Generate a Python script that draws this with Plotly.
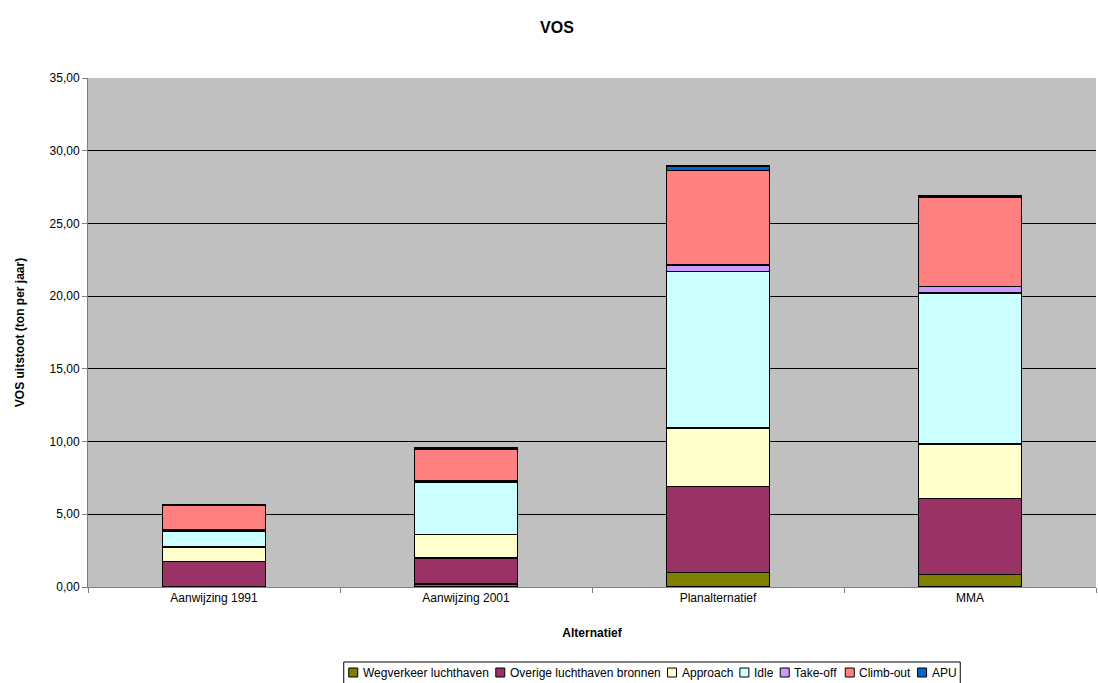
import plotly.graph_objects as go

categories = ["Aanwijzing 1991", "Aanwijzing 2001", "Planalternatief", "MMA"]
wegverkeer = [0.0, 0.2, 1.0, 0.85]
overige = [1.75, 1.8, 5.9, 5.25]
approach = [1.0, 1.6, 4.05, 3.75]
idle = [1.1, 3.6, 10.75, 10.35]
take_off = [0.1, 0.1, 0.45, 0.45]
climb_out = [1.7, 2.2, 6.5, 6.15]
apu = [0.0, 0.05, 0.3, 0.1]

series_names = ["Wegverkeer luchthaven", "Overige luchthaven bronnen", "Approach",
                "Idle", "Take-off", "Climb-out", "APU"]
series_values = [wegverkeer, overige, approach, idle, take_off, climb_out, apu]
series_colors = ["#808000", "#993366", "#FFFFCC", "#CCFFFF", "#CC99FF", "#FF8080", "#0066CC"]

W, H = 1098, 683
ML, MR, MT, MB = 88, 2, 78, 96
PW, PH = W - ML - MR, H - MT - MB
FONT = "Liberation Sans, Arial, sans-serif"
LEG_FONT = 12

# Arial advance widths (em) used to lay out the Excel-style legend
_AW = {c: 0.556 for c in "abdeghnopqu0123456789"}
_AW.update({"c": 0.5, "k": 0.5, "s": 0.5, "v": 0.5, "x": 0.5, "y": 0.5, "z": 0.5,
            "f": 0.278, "t": 0.278, "i": 0.222, "j": 0.222, "l": 0.222, "r": 0.333,
            "m": 0.833, "w": 0.722, " ": 0.278, "-": 0.333, "A": 0.667, "P": 0.667,
            "U": 0.722, "W": 0.944, "O": 0.778, "I": 0.278, "T": 0.611, "C": 0.722})

def text_w(s, size):
    return sum(_AW.get(c, 0.556) for c in s) * size

def px2x(px):
    return (px - ML) / PW

def py2y(py):
    return (H - MB - py) / PH

fig = go.Figure()
for name, vals, col in zip(series_names, series_values, series_colors):
    fig.add_trace(go.Bar(
        name=name, x=categories, y=vals,
        marker=dict(color=col, line=dict(color="#000000", width=1.5)),
        showlegend=False,
    ))

# manual legend (Excel style: small square + text)
SQ, GAP_T, GAP_I, PAD = 9, 4, 8, 5
widths = [SQ + GAP_T + text_w(n, LEG_FONT) for n in series_names]
total = sum(widths) + GAP_I * (len(widths) - 1) + 2 * PAD
center = 652
box_l = center - total / 2
shapes, annotations = [], []
shapes.append(dict(type="rect", xref="paper", yref="paper",
                   x0=px2x(box_l), x1=px2x(box_l + total),
                   y0=py2y(690), y1=py2y(662),
                   line=dict(color="black", width=1), fillcolor="white", layer="below"))
cx = box_l + PAD
for w, name, col in zip(widths, series_names, series_colors):
    shapes.append(dict(type="rect", xref="paper", yref="paper",
                       x0=px2x(cx), x1=px2x(cx + SQ), y0=py2y(677), y1=py2y(668),
                       line=dict(color="black", width=1), fillcolor=col))
    annotations.append(dict(text=name, xref="paper", yref="paper",
                            x=px2x(cx + SQ + GAP_T - 1), y=py2y(672.5), xanchor="left",
                            yanchor="middle", showarrow=False,
                            font=dict(size=LEG_FONT)))
    cx += w + GAP_I

fig.update_layout(
    barmode="stack",
    bargap=0.59,
    width=W, height=H,
    separators=",.",
    paper_bgcolor="white",
    plot_bgcolor="#C0C0C0",
    font=dict(family=FONT, size=12, color="black"),
    margin=dict(l=ML, r=MR, t=MT, b=MB),
    title=dict(text="<b>VOS</b>", x=px2x(557), xref="paper", xanchor="center",
               y=1 - 27 / H, yanchor="middle", font=dict(size=16)),
    showlegend=False,
    shapes=shapes,
    annotations=annotations,
    xaxis=dict(title=dict(text="<b>Alternatief</b>", font=dict(size=12), standoff=24),
               showline=True, linecolor="#808080", linewidth=1,
               ticks="outside", tickson="boundaries", ticklen=5, tickcolor="#808080",
               tickfont=dict(size=12), showgrid=False, automargin=False),
    yaxis=dict(title=dict(text="<b>VOS uitstoot (ton per jaar)</b>", font=dict(size=12), standoff=22),
               range=[0, 35], dtick=5, tickformat=".2f",
               showline=True, linecolor="#808080", linewidth=1,
               ticks="outside", ticklen=5, tickcolor="#808080", tickfont=dict(size=12),
               showgrid=True, gridcolor="#000000", gridwidth=1, zeroline=False,
               automargin=False),
)

fig.write_html("out.html", config={"displayModeBar": False},
               post_script="document.body.style.margin='0';")
